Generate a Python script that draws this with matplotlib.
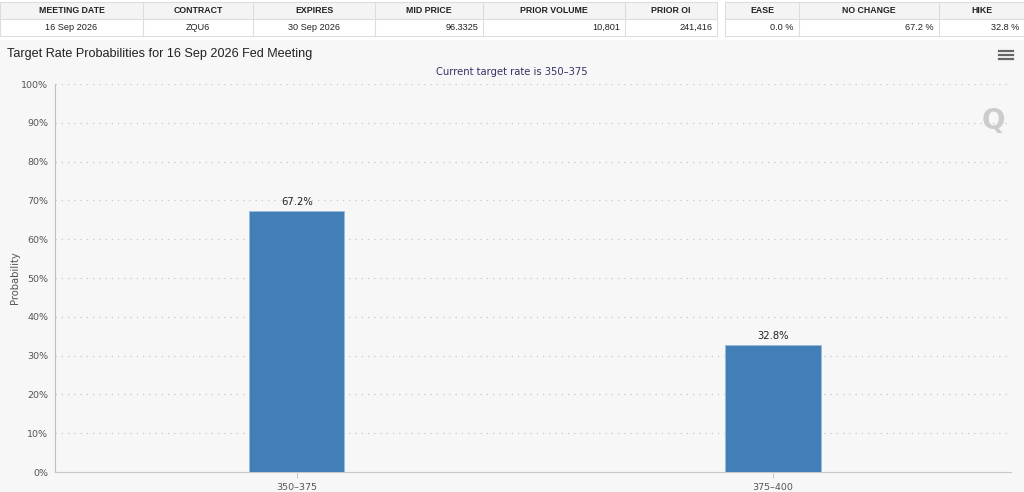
import matplotlib.pyplot as plt
from matplotlib.patches import Rectangle

W, H = 1024, 492

# chart data
categories = ['350\u2013375', '375\u2013400']
probabilities = [67.2, 32.8]
y_ticks = list(range(0, 101, 10))

# table contents
left_headers = ['MEETING DATE', 'CONTRACT', 'EXPIRES', 'MID PRICE', 'PRIOR VOLUME', 'PRIOR OI']
left_values = ['16 Sep 2026', 'ZQU6', '30 Sep 2026', '96.3325', '10,801', '241,416']
left_edges = [0, 143, 253, 375, 483, 625, 717]
left_align = ['center', 'center', 'center', 'right', 'right', 'right']

right_headers = ['EASE', 'NO CHANGE', 'HIKE']
right_values = ['0.0 %', '67.2 %', '32.8 %']
right_edges = [725, 799, 939, 1024]
right_align = ['right', 'right', 'right']

title = 'Target Rate Probabilities for 16 Sep 2026 Fed Meeting'
subtitle = 'Current target rate is 350\u2013375'


def fx(px):
    return px / W


def fy(py):
    return 1 - py / H


fig = plt.figure(figsize=(W / 100, H / 100), dpi=100)
fig.patch.set_facecolor('white')

# grey chart panel
fig.add_artist(Rectangle((0, 0), 1, fy(40), transform=fig.transFigure,
                         facecolor='#f7f7f7', edgecolor='none', zorder=0))


def draw_table(headers, values, edges, aligns):
    x0, x1 = edges[0], edges[-1]
    fig.add_artist(Rectangle((fx(x0), fy(19)), fx(x1 - x0), fy(2) - fy(19),
                             transform=fig.transFigure, facecolor='#f4f4f4',
                             edgecolor='#dddddd', lw=0.8))
    fig.add_artist(Rectangle((fx(x0), fy(36)), fx(x1 - x0), fy(19) - fy(36),
                             transform=fig.transFigure, facecolor='white',
                             edgecolor='#dddddd', lw=0.8))
    for i, (h, v) in enumerate(zip(headers, values)):
        a, b = edges[i], edges[i + 1]
        if i > 0:
            fig.add_artist(plt.Line2D([fx(a), fx(a)], [fy(2), fy(36)],
                                      transform=fig.transFigure, color='#dddddd', lw=0.8))
        fig.text(fx((a + b) / 2), fy(10.5), h, ha='center', va='center',
                 fontsize=6.3, fontweight='bold', family='Liberation Sans', color='#222222')
        if aligns[i] == 'center':
            xt = fx((a + b) / 2)
        else:
            xt = fx(b - 5)
        fig.text(xt, fy(27.5), v, ha=aligns[i], va='center',
                 fontsize=6.6, family='Liberation Sans', color='#222222')


draw_table(left_headers, left_values, left_edges, left_align)
draw_table(right_headers, right_values, right_edges, right_align)

fig.text(fx(7), fy(54), title, ha='left', va='center', fontsize=9.1,
         family='Liberation Sans', color='#222222')
fig.text(fx(512), fy(72), subtitle, ha='center', va='center', fontsize=7.2,
         color='#333366')

# menu icon
for dy in (51, 55, 59):
    fig.add_artist(plt.Line2D([fx(999), fx(1013)], [fy(dy), fy(dy)],
                              transform=fig.transFigure, color='#666666', lw=1.6))

# watermark
fig.text(fx(993), fy(121), 'Q', ha='center', va='center', fontsize=20,
         fontweight='bold', color='#cccccc', family='DejaVu Sans')

ax = fig.add_axes([fx(55), fy(472), fx(1011 - 55), fy(84) - fy(472)])
ax.set_facecolor('none')

x = range(len(categories))
bars = ax.bar(x, probabilities, width=0.2, color='#417fb6', edgecolor='#9dbcd9',
              linewidth=0.6, zorder=3)
for xi, v in zip(x, probabilities):
    ax.text(xi, v + 1.0, f'{v:.1f}%', ha='center', va='bottom', fontsize=7.2,
            color='#222222', zorder=4)

ax.set_xlim(-0.508, 1.5)
ax.set_ylim(0, 100)
ax.set_yticks(y_ticks)
ax.set_yticklabels([f'{t}%' for t in y_ticks])
ax.set_xticks(list(x))
ax.set_xticklabels(categories)
ax.tick_params(axis='both', labelsize=6.8, colors='#555555', length=3, width=0.6)
ax.tick_params(axis='y', length=0, pad=5)
ax.tick_params(axis='x', length=4, pad=4, color='#c0c0c0')

ax.grid(axis='y', linestyle=(0, (1, 4)), color='#c8c8c8', lw=0.9, zorder=0)
for s in ('top', 'right'):
    ax.spines[s].set_visible(False)
ax.spines['left'].set_color('#c0c0c0')
ax.spines['bottom'].set_color('#c8c8c8')
ax.spines['left'].set_linewidth(0.8)
ax.spines['bottom'].set_linewidth(0.8)

ax.set_ylabel('Probability', fontsize=7.2, color='#555555')
ax.yaxis.set_label_coords(fx(20 - 55) / fx(1011 - 55), 0.5)

fig.savefig('out.png', dpi=100)
